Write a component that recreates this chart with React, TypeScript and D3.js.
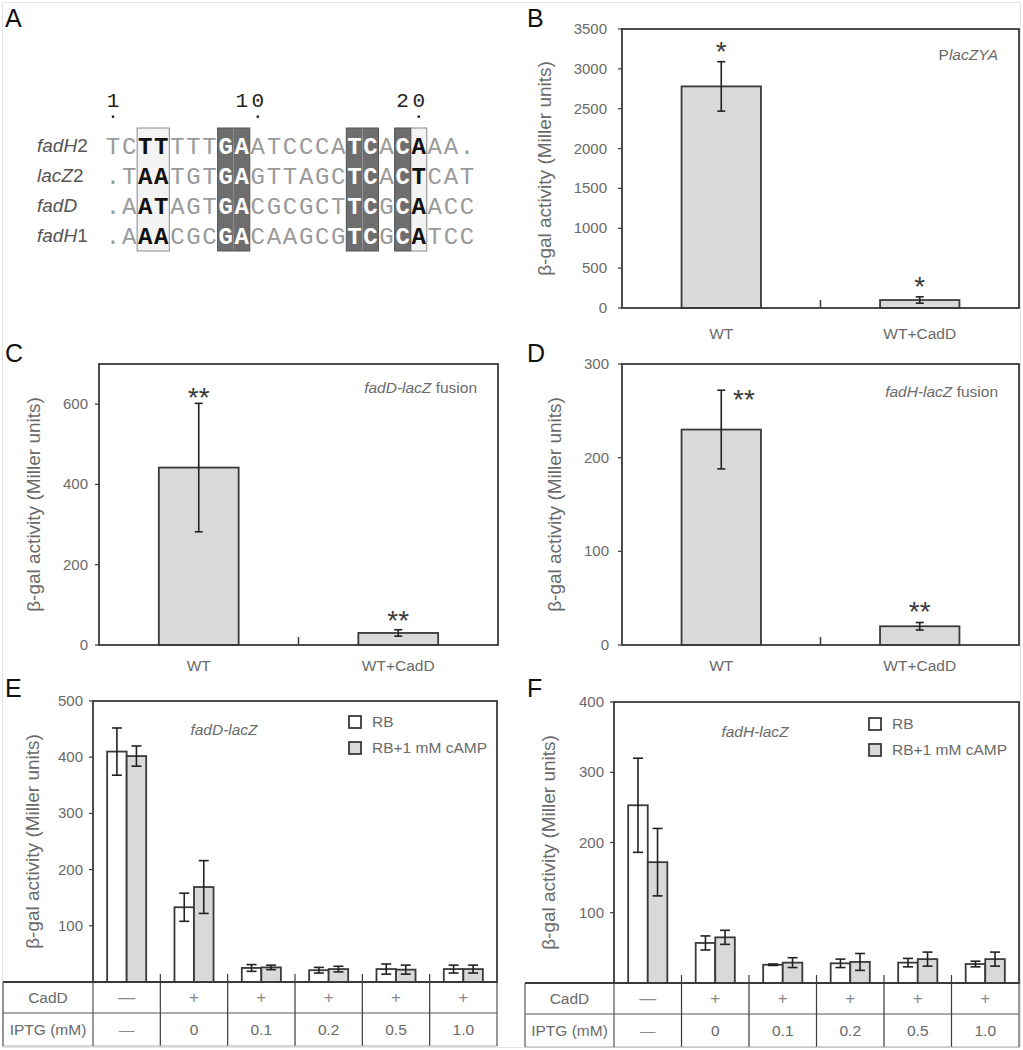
import React from "react";
import * as d3 from "d3";

const FONT = "'Liberation Sans', Arial, Helvetica, sans-serif";
const MONO = "'Liberation Mono', 'Courier New', monospace";
const GRAY = "#6a6a6a";
const INK = "#3a3a3a";
const BAR_FILL = "#d9d9d9";

// ---- panel A: aligned CadC boxes
const seqNames = ["fadH", "lacZ", "fadD", "fadH"];
const seqSuffix = ["2", "2", "", "1"];
const sequences = [
  "TCTTTTTGAATCCCATCACAAA.",
  ".TAATGTGAGTTAGCTCACTCAT",
  ".AATAGTGACGCGCTTCGCAACC",
  ".AAACGCGACAAGCGTCGCATCC",
];
const darkCols = [7, 8, 15, 16, 18];
const lightCols = [2, 3, 19];
const positionMarks = [1, 10, 20];

// ---- panels B, C, D
const strains = ["WT", "WT+CadD"];
const bValues = [2780, 100];
const bErrors = [310, 40];
const bTicks = [0, 500, 1000, 1500, 2000, 2500, 3000, 3500];
const cValues = [442, 30];
const cErrors = [160, 8];
const cTicks = [0, 200, 400, 600];
const dValues = [230, 20];
const dErrors = [42, 4];
const dTicks = [0, 100, 200, 300];

// ---- panels E, F
const conditions = ["c1", "c2", "c3", "c4", "c5", "c6"];
const cadDRow = ["\u2014", "+", "+", "+", "+", "+"];
const iptgRow = ["\u2014", "0", "0.1", "0.2", "0.5", "1.0"];
const eRB = [410, 133, 25, 21, 23, 23];
const eRBErr = [42, 25, 6, 5, 9, 7];
const eCamp = [402, 169, 26, 23, 22, 23];
const eCampErr = [18, 47, 4, 5, 8, 7];
const eTicks = [100, 200, 300, 400, 500];
const fRB = [253, 57, 26, 28, 29, 27];
const fRBErr = [67, 10, 1, 6, 6, 4];
const fCamp = [172, 65, 29, 30, 34, 34];
const fCampErr = [48, 10, 7, 12, 10, 10];
const fTicks = [100, 200, 300, 400];
const legendLabels = ["RB", "RB+1 mM cAMP"];

const yTitle = "\u03b2-gal activity (Miller units)";

function PanelLetter({ x, y, t }) {
  return (
    <text x={x} y={y} fontFamily={FONT} fontSize={25} fill="#111">
      {t}
    </text>
  );
}

function YTitle({ x, y }) {
  return (
    <text
      transform={`translate(${x},${y}) rotate(-90)`}
      textAnchor="middle"
      fontFamily={FONT}
      fontSize={19}
      fill={GRAY}
    >
      {yTitle}
    </text>
  );
}

function Stars({ x, y, n }) {
  // y is the visual centre of the asterisks
  return (
    <text x={x} y={y + 16} textAnchor="middle" fontFamily={FONT} fontSize={28} fill={INK}>
      {"*".repeat(n)}
    </text>
  );
}

function ErrorBar({ x, y, lo, hi, cap }) {
  return (
    <g stroke="#222" strokeWidth={1.6}>
      <line x1={x} x2={x} y1={y(hi)} y2={y(lo)} />
      <line x1={x - cap / 2} x2={x + cap / 2} y1={y(hi)} y2={y(hi)} />
      <line x1={x - cap / 2} x2={x + cap / 2} y1={y(lo)} y2={y(lo)} />
    </g>
  );
}

function AlignmentPanel() {
  const col = d3.scaleLinear().domain([0, 22]).range([113, 467]);
  const row = d3.scalePoint().domain(d3.range(seqNames.length)).range([145, 235]);
  const pitch = col(1) - col(0);
  const boxTop = 128;
  const boxBottom = 251;
  return (
    <g>
      <PanelLetter x={5} y={27} t="A" />
      {lightCols.map((c) => (
        <rect
          key={"l" + c}
          x={col(c) - pitch / 2}
          y={boxTop}
          width={pitch}
          height={boxBottom - boxTop}
          fill="#f3f3f3"
        />
      ))}
      {darkCols.map((c) => (
        <rect
          key={"d" + c}
          x={col(c) - pitch / 2}
          y={boxTop}
          width={pitch}
          height={boxBottom - boxTop}
          fill="#6e6e6e"
        />
      ))}
      {/* outlines around the conserved blocks */}
      {[[2, 3], [19, 19]].map(([a, b]) => (
        <rect
          key={"o" + a}
          x={col(a) - pitch / 2}
          y={boxTop}
          width={(b - a + 1) * pitch}
          height={boxBottom - boxTop}
          fill="none"
          stroke="#8a8a8a"
          strokeWidth={1}
        />
      ))}
      {[[7, 8], [15, 16], [18, 18]].map(([a, b]) => (
        <rect
          key={"od" + a}
          x={col(a) - pitch / 2}
          y={boxTop}
          width={(b - a + 1) * pitch}
          height={boxBottom - boxTop}
          fill="none"
          stroke="#555"
          strokeWidth={1}
        />
      ))}
      {positionMarks.map((p) => {
        const digits = String(p).split("");
        const last = p - 1;
        return (
          <g key={"p" + p}>
            {digits.map((ch, i) => (
              <text
                key={i}
                x={col(last - (digits.length - 1 - i))}
                y={107}
                textAnchor="middle"
                fontFamily={MONO}
                fontSize={21}
                fill="#222"
              >
                {ch}
              </text>
            ))}
            <rect x={col(last) - 1.2} y={115.5} width={2.4} height={2.4} fill="#222" />
          </g>
        );
      })}
      {sequences.map((s, r) => (
        <g key={"s" + r}>
          <text x={37} y={row(r) + 7} fontFamily={FONT} fontSize={19} fill="#555">
            <tspan fontStyle="italic">{seqNames[r]}</tspan>
            {seqSuffix[r]}
          </text>
          {s.split("").map((ch, c) => {
            const dark = darkCols.includes(c);
            const light = lightCols.includes(c);
            return (
              <text
                key={c}
                x={col(c)}
                y={row(r) + 8.5}
                textAnchor="middle"
                fontFamily={MONO}
                fontSize={24}
                fontWeight={dark || light ? "bold" : "normal"}
                fill={dark ? "#fff" : light ? "#111" : "#9a9a9a"}
              >
                {ch}
              </text>
            );
          })}
        </g>
      ))}
    </g>
  );
}

function StrainPanel({
  letter,
  letterPos,
  frame,
  yMax,
  ticks,
  values,
  errors,
  stars,
  starPos,
  note,
  noteY,
  labelGap,
  titleX,
  catY,
}) {
  const [left, top, right, bottom] = frame;
  const x = d3.scaleBand().domain(strains).range([left, right]).padding(0);
  const y = d3.scaleLinear().domain([0, yMax]).range([bottom, top]);
  const bw = x.bandwidth() * 0.4;
  return (
    <g>
      <PanelLetter x={letterPos[0]} y={letterPos[1]} t={letter} />
      <YTitle x={titleX} y={(top + bottom) / 2} />
      {ticks.map((t) => (
        <g key={t}>
          <line x1={left - 4} x2={left} y1={y(t)} y2={y(t)} stroke={INK} strokeWidth={1.2} />
          <text
            x={left - labelGap}
            y={y(t) + 5}
            textAnchor="end"
            fontFamily={FONT}
            fontSize={15}
            fill={GRAY}
          >
            {t}
          </text>
        </g>
      ))}
      {strains.map((s, i) => {
        const cx = x(s) + x.bandwidth() / 2;
        return (
          <g key={s}>
            <rect
              x={cx - bw / 2}
              y={y(values[i])}
              width={bw}
              height={bottom - y(values[i])}
              fill={BAR_FILL}
              stroke={INK}
              strokeWidth={1.8}
            />
            <ErrorBar x={cx} y={y} lo={values[i] - errors[i]} hi={values[i] + errors[i]} cap={8} />
            <Stars x={starPos[i][0] ?? cx} y={starPos[i][1]} n={stars} />
            <text x={cx} y={catY} textAnchor="middle" fontFamily={FONT} fontSize={15.5} fill={GRAY}>
              {s}
            </text>
          </g>
        );
      })}
      <line
        x1={x(strains[1])}
        x2={x(strains[1])}
        y1={bottom}
        y2={bottom - 8}
        stroke={INK}
        strokeWidth={1.5}
      />
      <rect
        x={left}
        y={top}
        width={right - left}
        height={bottom - top}
        fill="none"
        stroke={INK}
        strokeWidth={1.8}
      />
      <text x={right - 21} y={noteY} textAnchor="end" fontFamily={FONT} fontSize={15.5} fill={GRAY}>
        {note}
      </text>
    </g>
  );
}

function ConditionPanel({
  letter,
  letterPos,
  frame,
  tableLeft,
  yMax,
  ticks,
  rb,
  rbErr,
  camp,
  campErr,
  note,
  notePos,
  legendPos,
  titleX,
}) {
  const [left, top, right, bottom] = frame;
  const x = d3.scaleBand().domain(conditions).range([left, right]).padding(0);
  const y = d3.scaleLinear().domain([0, yMax]).range([bottom, top]);
  const bw = x.bandwidth() * 0.29;
  const row1 = bottom + 31;
  const row2 = bottom + 64;
  const fills = ["#fff", BAR_FILL];
  return (
    <g>
      <PanelLetter x={letterPos[0]} y={letterPos[1]} t={letter} />
      <YTitle x={titleX} y={(top + bottom) / 2} />
      {ticks.map((t) => (
        <g key={t}>
          <line x1={left - 4} x2={left} y1={y(t)} y2={y(t)} stroke={INK} strokeWidth={1.2} />
          <text
            x={left - 10}
            y={y(t) + 5}
            textAnchor="end"
            fontFamily={FONT}
            fontSize={15}
            fill={GRAY}
          >
            {t}
          </text>
        </g>
      ))}
      {conditions.map((c, i) => {
        const cx = x(c) + x.bandwidth() / 2;
        const sets = [
          [rb[i], rbErr[i], cx - bw],
          [camp[i], campErr[i], cx],
        ];
        return (
          <g key={c}>
            {sets.map(([v, e, bx], k) => (
              <rect
                key={k}
                x={bx}
                y={y(v)}
                width={bw}
                height={bottom - y(v)}
                fill={fills[k]}
                stroke={INK}
                strokeWidth={1.8}
              />
            ))}
            {sets.map(([v, e, bx], k) => (
              <ErrorBar key={"e" + k} x={bx + bw / 2} y={y} lo={v - e} hi={v + e} cap={10} />
            ))}
            <text x={cx} y={row1 - 10} textAnchor="middle" fontFamily={FONT} fontSize={17} fill="#8a8a8a">
              {cadDRow[i]}
            </text>
            <text x={cx} y={row2 - 11} textAnchor="middle" fontFamily={FONT} fontSize={15.5} fill={i === 0 ? "#8a8a8a" : GRAY}>
              {iptgRow[i]}
            </text>
            {i > 0 && (
              <line x1={x(c)} x2={x(c)} y1={bottom - 8} y2={row2} stroke={INK} strokeWidth={1.2} />
            )}
          </g>
        );
      })}
      {/* table grid */}
      <g stroke="#555" strokeWidth={1.2}>
        <line x1={tableLeft} x2={right} y1={row1} y2={row1} />
        <line x1={tableLeft} x2={right} y1={row2} y2={row2} stroke="#aaa" />
        <line x1={tableLeft} x2={tableLeft} y1={bottom} y2={row2} />
        <line x1={left} x2={left} y1={bottom} y2={row2} />
        <line x1={right} x2={right} y1={bottom} y2={row2} />
        <line x1={tableLeft} x2={right} y1={bottom} y2={bottom} strokeWidth={1.8} stroke={INK} />
      </g>
      <text x={(tableLeft + left) / 2} y={row1 - 10} textAnchor="middle" fontFamily={FONT} fontSize={15.5} fill={GRAY}>
        CadD
      </text>
      <text x={(tableLeft + left) / 2} y={row2 - 11} textAnchor="middle" fontFamily={FONT} fontSize={15.5} fill={GRAY}>
        IPTG (mM)
      </text>
      <rect
        x={left}
        y={top}
        width={right - left}
        height={bottom - top}
        fill="none"
        stroke={INK}
        strokeWidth={1.8}
      />
      <text x={notePos[0]} y={notePos[1]} textAnchor="middle" fontFamily={FONT} fontSize={15.5} fontStyle="italic" fill={GRAY}>
        {note}
      </text>
      {legendLabels.map((l, k) => (
        <g key={l}>
          <rect
            x={legendPos[0]}
            y={legendPos[1] + k * 26}
            width={12}
            height={12}
            fill={fills[k]}
            stroke={INK}
            strokeWidth={1.8}
          />
          <text
            x={legendPos[0] + 23}
            y={legendPos[1] + k * 26 + 11}
            fontFamily={FONT}
            fontSize={15.5}
            fill={GRAY}
          >
            {l}
          </text>
        </g>
      ))}
    </g>
  );
}

export default function App() {
  return (
    <div style={{ position: "absolute", left: 0, top: 0 }}>
      <svg width={1023} height={1050} style={{ display: "block", background: "#fff" }}>
        <rect x={2.5} y={2.5} width={1018} height={1045} fill="none" stroke="#e4e4e4" strokeWidth={1} />
        <AlignmentPanel />
        <StrainPanel
          letter="B"
          letterPos={[527, 27]}
          frame={[622, 29, 1019, 308]}
          yMax={3500}
          ticks={bTicks}
          values={bValues}
          errors={bErrors}
          stars={1}
          starPos={[[null, 45], [null, 280]]}
          note={
            <>
              P<tspan fontStyle="italic">lacZYA</tspan>
            </>
          }
          noteY={60}
          labelGap={15}
          titleX={551}
          catY={339}
        />
        <StrainPanel
          letter="C"
          letterPos={[5, 362]}
          frame={[99, 364, 498, 645]}
          yMax={700}
          ticks={cTicks}
          values={cValues}
          errors={cErrors}
          stars={2}
          starPos={[[null, 391], [null, 614]]}
          note={
            <>
              <tspan fontStyle="italic">fadD-lacZ</tspan> fusion
            </>
          }
          noteY={393}
          labelGap={11}
          titleX={40}
          catY={671}
        />
        <StrainPanel
          letter="D"
          letterPos={[527, 362]}
          frame={[622, 364, 1019, 645]}
          yMax={300}
          ticks={dTicks}
          values={dValues}
          errors={dErrors}
          stars={2}
          starPos={[[744, 393], [null, 605]]}
          note={
            <>
              <tspan fontStyle="italic">fadH-lacZ</tspan> fusion
            </>
          }
          noteY={397}
          labelGap={13}
          titleX={561}
          catY={671}
        />
        <ConditionPanel
          letter="E"
          letterPos={[5, 697]}
          frame={[93, 701, 497, 982]}
          tableLeft={3}
          yMax={500}
          ticks={eTicks}
          rb={eRB}
          rbErr={eRBErr}
          camp={eCamp}
          campErr={eCampErr}
          note="fadD-lacZ"
          notePos={[224, 735]}
          legendPos={[349, 716]}
          titleX={39}
        />
        <ConditionPanel
          letter="F"
          letterPos={[527, 697]}
          frame={[614, 702, 1019, 983]}
          tableLeft={525}
          yMax={400}
          ticks={fTicks}
          rb={fRB}
          rbErr={fRBErr}
          camp={fCamp}
          campErr={fCampErr}
          note="fadH-lacZ"
          notePos={[755, 737]}
          legendPos={[869, 718]}
          titleX={555}
        />
      </svg>
    </div>
  );
}
